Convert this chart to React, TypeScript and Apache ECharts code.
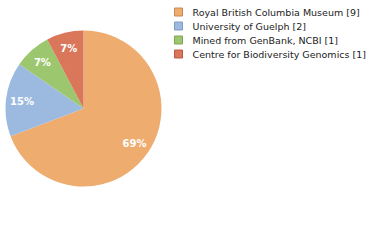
import React, { useEffect, useRef } from "react";
import * as echarts from "echarts";

const categories = [
  "Royal British Columbia Museum [9]",
  "University of Guelph [2]",
  "Mined from GenBank, NCBI [1]",
  "Centre for Biodiversity Genomics [1]",
];
const values = [9, 2, 1, 1];
const colors = ["#EEAC6F", "#9CBAE0", "#9CC76F", "#DA775A"];
const borders = ["#C98A52", "#7E9BC0", "#7EA655", "#B85D44"];

export default function App() {
  const ref = useRef<HTMLDivElement>(null);
  useEffect(() => {
    if (!ref.current) return;
    const chart = echarts.init(ref.current, null, { renderer: "svg" });
    const total = values.reduce((a, b) => a + b, 0);
    const data = categories.map((name, i) => ({
      name,
      value: values[i],
      itemStyle: { color: colors[i] },
    }));
    chart.setOption({
      animation: false,
      backgroundColor: "#ffffff",
      legend: {
        orient: "vertical",
        left: 174,
        top: 7,
        padding: 0,
        icon: "rect",
        itemWidth: 8,
        itemHeight: 8,
        itemGap: 4,
        selectedMode: false,
        data: categories.map((name, i) => ({
          name,
          itemStyle: { borderColor: borders[i], borderWidth: 1 },
        })),
        textStyle: {
          fontFamily: "DejaVu Sans",
          fontSize: 9.5,
          color: "#222",
          padding: [0, 0, 0, 5],
          lineHeight: 8,
        },
      },
      series: [
        {
          type: "pie",
          center: [83.5, 108.5],
          radius: [0, 78],
          startAngle: 90,
          clockwise: true,
          silent: true,
          label: { show: false },
          labelLine: { show: false },
          itemStyle: { borderWidth: 0 },
          data,
        },
        {
          type: "pie",
          center: [83.5, 108.5],
          radius: [40, 78],
          startAngle: 90,
          clockwise: true,
          silent: true,
          legendHoverLink: false,
          itemStyle: { color: "rgba(0,0,0,0)", borderWidth: 0 },
          label: {
            show: true,
            position: "inside",
            color: "#ffffff",
            fontFamily: "DejaVu Sans",
            fontWeight: "bold",
            fontSize: 10,
            formatter: (p: any) => Math.floor((p.value / total) * 100) + "%",
          },
          labelLine: { show: false },
          data: categories.map((name, i) => ({ name: name + " ", value: values[i] })),
        },
      ],
    });
    return () => chart.dispose();
  }, []);
  return (
    <div
      ref={ref}
      style={{ position: "fixed", left: 0, top: 0, width: 380, height: 240 }}
    />
  );
}
